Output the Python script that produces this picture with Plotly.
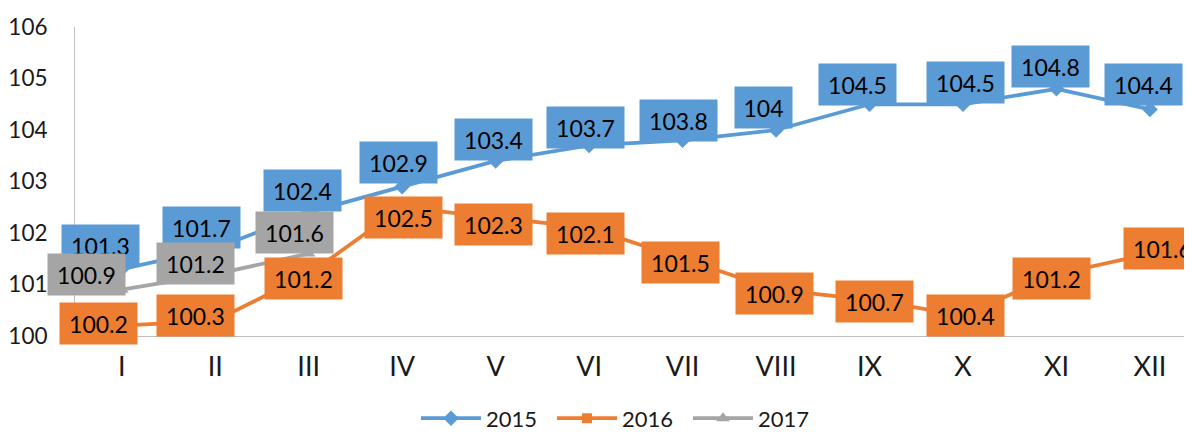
import plotly.graph_objects as go

months = ["I", "II", "III", "IV", "V", "VI", "VII", "VIII", "IX", "X", "XI", "XII"]
v2015 = [101.3, 101.7, 102.4, 102.9, 103.4, 103.7, 103.8, 104, 104.5, 104.5, 104.8, 104.4]
v2016 = [100.2, 100.3, 101.2, 102.5, 102.3, 102.1, 101.5, 100.9, 100.7, 100.4, 101.2, 101.6]
v2017 = [100.9, 101.2, 101.6]
y_ticks = [100, 101, 102, 103, 104, 105, 106]

# style: label box offsets in pixels (dx, dy; dy positive = up)
off2015 = [(-21, 24), (-14, 21), (-6, 22), (-4, 24), (-2, 21), (-4, 18), (-4, 20), (-13, 23),
           (-12, 20), (3, 22), (-6, 22), (-6, 25)]
off2016 = [(-23, 2), (-20, 5), (-5, -4), (1, -10), (-2, -7), (-4, -6), (-2, -4), (-2, -4),
           (5, -2), (3, 0), (-5, -4), (13, 5)]
off2017 = [(-35, 15), (-20, 11), (-14, 21)]

C15, C16, C17 = "#5B9BD5", "#ED7D31", "#A5A5A5"
FONT = "Lato"

fig = go.Figure()
fig.add_trace(go.Scatter(x=months, y=v2015, name="2015", mode="lines+markers",
                         line=dict(color=C15, width=3.75),
                         marker=dict(symbol="diamond", size=12, color=C15), cliponaxis=False))
fig.add_trace(go.Scatter(x=months, y=v2016, name="2016", mode="lines+markers",
                         line=dict(color=C16, width=3.75),
                         marker=dict(symbol="square", size=10, color=C16), cliponaxis=False))
fig.add_trace(go.Scatter(x=months[:len(v2017)], y=v2017, name="2017", mode="lines+markers",
                         line=dict(color=C17, width=3.75),
                         marker=dict(symbol="triangle-up", size=12, color=C17), cliponaxis=False))


def add_labels(xs, ys, offs, color):
    for x, y, (dx, dy) in zip(xs, ys, offs):
        txt = f"{y:g}"
        fig.add_annotation(x=x, y=y, text=txt, showarrow=False, xshift=dx, yshift=dy,
                           bgcolor=color, borderpad=3, width=10 * len(txt) + 21, height=35,
                           font=dict(family=FONT, size=23, color="#000000"))


add_labels(months, v2015, off2015, C15)
add_labels(months, v2016, off2016, C16)
add_labels(months[:len(v2017)], v2017, off2017, C17)

# page body has an 8px default margin, so the figure is 8px smaller than the window
fig.update_layout(
    width=1184, height=424,
    margin=dict(l=67, r=0, t=19, b=96, autoexpand=False),
    paper_bgcolor="white", plot_bgcolor="white",
    font=dict(family=FONT, size=22, color="#1a1a1a"),
    showlegend=True,
    legend=dict(orientation="h", x=0.3446, xref="container", xanchor="left",
                y=0.032, yref="container", yanchor="middle",
                font=dict(size=22), itemwidth=60, entrywidth=61, entrywidthmode="pixels",
                tracegroupgap=0),
)
fig.update_xaxes(showline=True, linecolor="#BFBFBF", linewidth=1, showgrid=False,
                 ticks="", ticklabelstandoff=7, tickfont=dict(size=27),
                 range=[-0.5, 11.45], automargin=False)
fig.update_yaxes(range=[100, 106], tickvals=y_ticks, showline=True, linecolor="#BFBFBF",
                 linewidth=1, showgrid=False, zeroline=False, ticks="",
                 ticklabelstandoff=22, tickfont=dict(size=22.5), automargin=False)

fig.write_html("out.html")
